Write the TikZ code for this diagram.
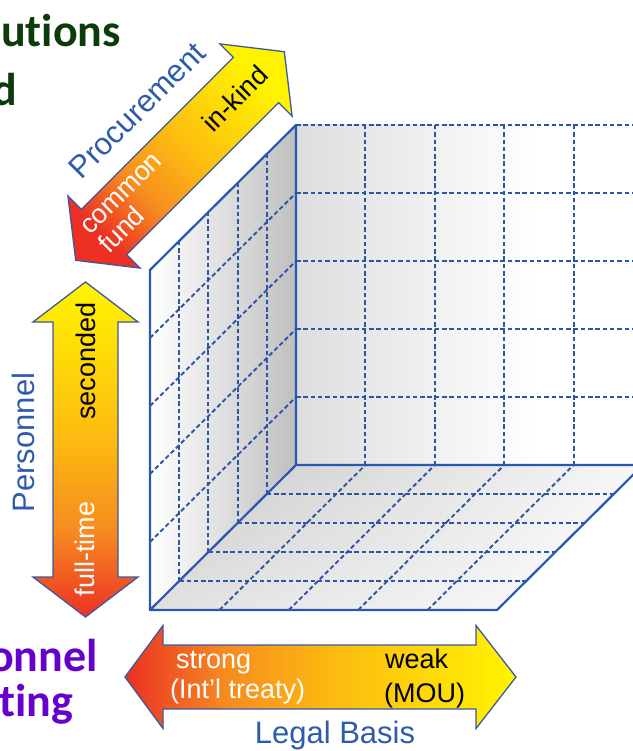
\documentclass[tikz,border=0pt]{standalone}
\usepackage{fontspec}
\usetikzlibrary{shadings}
\setmainfont{Liberation Sans}
\newfontfamily\headfont[Ligatures=NoCommon]{Carlito}
\definecolor{cubeblue}{RGB}{40,88,176}
\definecolor{gridblue}{RGB}{44,86,164}
\definecolor{arrowline}{RGB}{62,88,160}
\definecolor{axisblue}{RGB}{46,92,170}
\definecolor{headgreen}{RGB}{12,60,12}
\definecolor{headpurple}{RGB}{102,0,204}
\definecolor{ared}{RGB}{236,48,36}
\definecolor{aorange}{RGB}{246,140,32}
\definecolor{agold}{RGB}{253,188,16}
\definecolor{ayellow}{RGB}{255,244,0}
\pgfdeclarehorizontalshading{arrowgrad}{100bp}{color(0bp)=(ared); color(25bp)=(ared); color(38bp)=(aorange); color(52bp)=(agold); color(75bp)=(ayellow); color(100bp)=(ayellow)}
\tikzset{
  cubeedge/.style={draw=cubeblue, line width=2.2pt, line cap=round, line join=round},
  gridline/.style={draw=gridblue, line width=1.9pt, dash pattern=on 4.5pt off 2.8pt},
  arrowshape/.style={draw=arrowline, line width=1.3pt, line join=miter, shading=arrowgrad},
  axislabel/.style={text=axisblue, inner sep=0pt, font=\fontsize{31}{31}\selectfont},
  lbl/.style={text=black, inner sep=0pt, font=\fontsize{27}{27}\selectfont},
  lblw/.style={text=white, inner sep=0pt, font=\fontsize{27}{27}\selectfont},
  headg/.style={text=headgreen, inner sep=0pt, font=\headfont\bfseries\fontsize{46}{46}\selectfont},
  headp/.style={text=headpurple, inner sep=0pt, font=\headfont\bfseries\fontsize{46}{46}\selectfont},
}
\begin{document}
\begin{tikzpicture}[x=1pt,y=-1pt]
\fill[white] (0,0) rectangle (632,751);
\useasboundingbox (0,0) rectangle (632,751);

% ---- cube faces
\shade[left color=white, right color=black!25] (150,610) -- (296,465) -- (296,125) -- (150,270) -- cycle;
\shade[left color=black!13, right color=white] (296,125) rectangle (540,465);
\shade[upper left=black!22, upper right=black!3, lower left=black!12, lower right=white]
  (150,610) -- (296,465) -- (643,465) -- (497,610) -- cycle;

% ---- grid
\draw[gridline] (296,125) -- (643,125);
\foreach \k in {1,...,4} {
  \draw[gridline] ({296+69.4*\k},125) -- ({296+69.4*\k},465);
  \draw[gridline] (296,{125+68*\k}) -- (643,{125+68*\k});
  \draw[gridline] ({150+29.2*\k},{610-29*\k}) -- ({150+29.2*\k},{270-29*\k});
  \draw[gridline] (150,{610-68*\k}) -- (296,{465-68*\k});
  \draw[gridline] ({150+29.2*\k},{610-29*\k}) -- ({497+29.2*\k},{610-29*\k});
  \draw[gridline] ({150+69.4*\k},610) -- ({296+69.4*\k},465);
}

% ---- solid edges
\draw[cubeedge] (150,270) -- (150,610) -- (497,610) -- (643,465) -- (296,465) -- (150,610);
\draw[cubeedge] (150,270) -- (296,125) -- (296,465);

% ---- Procurement arrow
\shadedraw[arrowshape, shading angle=45]
  (284.3,51.7) -- (292.1,116.1) -- (278.6,102.6) -- (126.6,254.6) -- (140.1,268.1)
  -- (75.7,260.3) -- (67.9,195.9) -- (81.4,209.4) -- (233.4,57.4) -- (219.9,43.9) -- cycle;

% ---- Personnel arrow
\shadedraw[arrowshape, shading angle=90]
  (85.5,282) -- (138,322) -- (118,322) -- (118,577) -- (138,577) -- (85.5,617)
  -- (33,577) -- (53,577) -- (53,322) -- (33,322) -- cycle;

% ---- Legal Basis arrow
\shadedraw[arrowshape]
  (125,677) -- (163,625.5) -- (163,645) -- (476,645) -- (476,625.5) -- (516,677)
  -- (476,728.5) -- (476,709) -- (163,709) -- (163,728.5) -- cycle;

% ---- labels
\node[axislabel, rotate=45, anchor=base] (procname) at (144.6,117.8) {Procurement};
\node[lbl, rotate=45] (inkind) at (235,98.5) {in-kind};
\node[lblw, rotate=45, anchor=base west] (common) at (90.2,235.9) {common};
\node[lblw, rotate=45, anchor=base west] (fund) at (109.3,255) {fund};

\node[lbl, rotate=90] (seconded) at (86,361) {seconded};
\node[lblw, rotate=90] (fulltime) at (85,549) {full-time};
\node[axislabel, rotate=90] (persname) at (23.5,442.5) {Personnel};

\node[axislabel, anchor=base] (legalname) at (335,743) {Legal Basis};
\node[lblw, anchor=base west] (strong) at (176,668) {strong};
\node[lblw, anchor=base west] (treaty) at (170,698) {(Int’l treaty)};
\node[lbl, anchor=base west] (weak) at (385,668) {weak};
\node[lbl, anchor=base west] (mou) at (384,702) {(MOU)};

% ---- cut-off headings
\node[headg, anchor=base east] (hd1) at (121,47) {utions};
\node[headg, anchor=base east] (hd2) at (17,106) {d};
\node[headp, anchor=base east] (hd3) at (98,671) {onnel};
\node[headp, anchor=base east] (hd4) at (73,716) {ting};
\end{tikzpicture}
\end{document}
